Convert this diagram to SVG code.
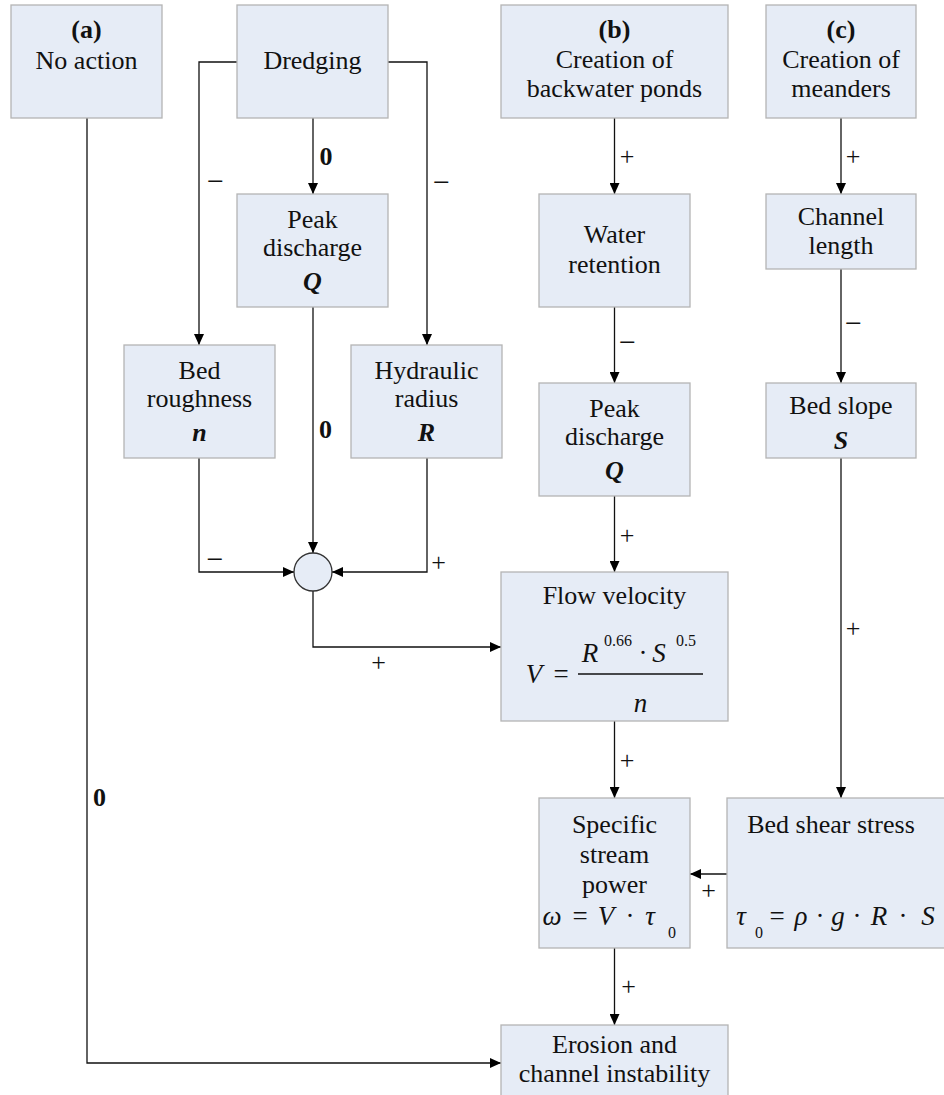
<svg xmlns="http://www.w3.org/2000/svg" width="944" height="1095" viewBox="0 0 944 1095" font-family="Liberation Serif, Tinos, Times New Roman, DejaVu Serif, serif">
<defs>
<marker id="ah" markerUnits="userSpaceOnUse" markerWidth="11" markerHeight="10" refX="11" refY="5" orient="auto">
<path d="M0,0 L11,5 L0,10 z" fill="#000"/>
</marker>
<style>
.box{fill:#E6ECF6;stroke:#B4B4B4;stroke-width:1.3}
text{font-family:'Liberation Serif','Tinos','Times New Roman','DejaVu Serif',serif}
.t{font-size:26px;fill:#111;text-anchor:middle}
.b{font-weight:bold}
.bi{font-weight:bold;font-style:italic}
.m{font-size:27px;fill:#111;font-style:italic;text-anchor:middle}
.mn{fill:#111;text-anchor:middle}
.c{fill:none;stroke:#111;stroke-width:1.3}
.lab{font-size:26px;fill:#111;text-anchor:middle}
.minus{font-size:30px;fill:#111;text-anchor:middle}
</style>
</defs>
<rect width="944" height="1095" fill="#fff"/>

<g id="connectors">
<path class="c" d="M87,118 V1063 H501" marker-end="url(#ah)"/>
<path class="c" d="M237,62 H199 V345" marker-end="url(#ah)"/>
<path class="c" d="M388,62 H427 V345" marker-end="url(#ah)"/>
<path class="c" d="M313,118 V194" marker-end="url(#ah)"/>
<path class="c" d="M313,307 V553" marker-end="url(#ah)"/>
<path class="c" d="M199,458 V572 H294" marker-end="url(#ah)"/>
<path class="c" d="M427,458 V572 H332" marker-end="url(#ah)"/>
<path class="c" d="M313,591 V647 H501" marker-end="url(#ah)"/>
<path class="c" d="M614.5,118 V194" marker-end="url(#ah)"/>
<path class="c" d="M614.5,307 V383" marker-end="url(#ah)"/>
<path class="c" d="M614.5,496 V572" marker-end="url(#ah)"/>
<path class="c" d="M614.5,721 V798" marker-end="url(#ah)"/>
<path class="c" d="M614.5,948 V1025" marker-end="url(#ah)"/>
<path class="c" d="M841,118 V194" marker-end="url(#ah)"/>
<path class="c" d="M841,269 V383" marker-end="url(#ah)"/>
<path class="c" d="M841,458 V798" marker-end="url(#ah)"/>
<path class="c" d="M727,874 H690" marker-end="url(#ah)"/>
<text class="lab b" x="326" y="165">0</text>
<text class="lab b" x="325.5" y="438">0</text>
<text class="lab b" x="99.5" y="806">0</text>
<text class="minus" x="215.5" y="191">−</text>
<text class="minus" x="441.5" y="192">−</text>
<text class="minus" x="627.5" y="352">−</text>
<text class="minus" x="853.5" y="333">−</text>
<text class="minus" x="215" y="569">−</text>
<text class="lab" x="627" y="165">+</text>
<text class="lab" x="853" y="165">+</text>
<text class="lab" x="627" y="544">+</text>
<text class="lab" x="438.5" y="571">+</text>
<text class="lab" x="378.5" y="671">+</text>
<text class="lab" x="627" y="769">+</text>
<text class="lab" x="853" y="637">+</text>
<text class="lab" x="708.5" y="899">+</text>
<text class="lab" x="628.5" y="995">+</text>
</g>

<g id="node-no-action">
<rect class="box" x="11" y="5" width="151" height="113"/>
<text class="t b" x="86.5" y="38">(a)</text>
<text class="t" x="86.5" y="69">No action</text>
</g>

<g id="node-dredging">
<rect class="box" x="237" y="5" width="151" height="113"/>
<text class="t" x="312.5" y="69">Dredging</text>
</g>

<g id="node-backwater">
<rect class="box" x="501" y="5" width="227" height="113"/>
<text class="t b" x="614.5" y="38">(b)</text>
<text class="t" x="614.5" y="68">Creation of</text>
<text class="t" x="614.5" y="97">backwater ponds</text>
</g>

<g id="node-meanders">
<rect class="box" x="766" y="5" width="150" height="113"/>
<text class="t b" x="841" y="38">(c)</text>
<text class="t" x="841" y="68">Creation of</text>
<text class="t" x="841" y="97">meanders</text>
</g>

<g id="node-peak-a">
<rect class="box" x="237" y="194" width="151" height="113"/>
<text class="t" x="312.5" y="228">Peak</text>
<text class="t" x="312.5" y="256">discharge</text>
<text class="t bi" x="312.5" y="290">Q</text>
</g>

<g id="node-roughness">
<rect class="box" x="124" y="345" width="151" height="113"/>
<text class="t" x="199.5" y="379">Bed</text>
<text class="t" x="199.5" y="407">roughness</text>
<text class="t bi" x="199.5" y="441">n</text>
</g>

<g id="node-hydraulic">
<rect class="box" x="351" y="345" width="151" height="113"/>
<text class="t" x="426.5" y="379">Hydraulic</text>
<text class="t" x="426.5" y="407">radius</text>
<text class="t bi" x="426.5" y="441">R</text>
</g>

<g id="node-sum">
<circle cx="313" cy="572" r="19" fill="#E6ECF6" stroke="#333" stroke-width="1.3"/>
</g>

<g id="node-retention">
<rect class="box" x="539" y="194" width="151" height="113"/>
<text class="t" x="614.5" y="243">Water</text>
<text class="t" x="614.5" y="273">retention</text>
</g>

<g id="node-peak-b">
<rect class="box" x="539" y="383" width="151" height="113"/>
<text class="t" x="614.5" y="417">Peak</text>
<text class="t" x="614.5" y="445">discharge</text>
<text class="t bi" x="614.5" y="479">Q</text>
</g>

<g id="node-channel-length">
<rect class="box" x="766" y="194" width="150" height="75"/>
<text class="t" x="841" y="225">Channel</text>
<text class="t" x="841" y="254">length</text>
</g>

<g id="node-bed-slope">
<rect class="box" x="766" y="383" width="150" height="75"/>
<text class="t" x="841" y="414">Bed slope</text>
<text class="t bi" x="841" y="449">S</text>
</g>

<g id="node-flow-velocity">
<rect class="box" x="501" y="572" width="227" height="149"/>
<text class="t" x="614.5" y="604">Flow velocity</text>
<text class="m" x="534" y="683">V</text>
<text class="mn" x="561" y="683" font-size="27">=</text>
<line x1="578" y1="674" x2="703" y2="674" stroke="#111" stroke-width="1.5"/>
<text class="m" x="590" y="662">R</text>
<text class="mn" x="618" y="646" font-size="16">0.66</text>
<text class="mn" x="643" y="662" font-size="27">·</text>
<text class="m" x="659" y="662">S</text>
<text class="mn" x="686" y="646" font-size="16">0.5</text>
<text class="m" x="640.5" y="712">n</text>
</g>

<g id="node-stream-power">
<rect class="box" x="539" y="798" width="151" height="150"/>
<text class="t" x="614.5" y="833">Specific</text>
<text class="t" x="614.5" y="863">stream</text>
<text class="t" x="614.5" y="893">power</text>
<text class="m" x="552" y="925">ω</text>
<text class="mn" x="580" y="925" font-size="27">=</text>
<text class="m" x="606" y="925">V</text>
<text class="mn" x="630" y="925" font-size="27">·</text>
<text class="m" x="650" y="925">τ</text>
<text class="mn" x="672" y="938" font-size="16">0</text>
</g>

<g id="node-shear-stress">
<rect class="box" x="727" y="798" width="228" height="150"/>
<text class="t" x="831" y="833">Bed shear stress</text>
<text class="m" x="741" y="925">τ</text>
<text class="mn" x="759" y="938" font-size="16">0</text>
<text class="mn" x="777" y="925" font-size="27">=</text>
<text class="m" x="801" y="925">ρ</text>
<text class="mn" x="820" y="925" font-size="27">·</text>
<text class="m" x="838" y="925">g</text>
<text class="mn" x="857" y="925" font-size="27">·</text>
<text class="m" x="879" y="925">R</text>
<text class="mn" x="903" y="925" font-size="27">·</text>
<text class="m" x="928" y="925">S</text>
</g>

<g id="node-erosion">
<rect class="box" x="501" y="1025" width="227" height="113"/>
<text class="t" x="614.5" y="1053">Erosion and</text>
<text class="t" x="614.5" y="1082">channel instability</text>
</g>
</svg>
